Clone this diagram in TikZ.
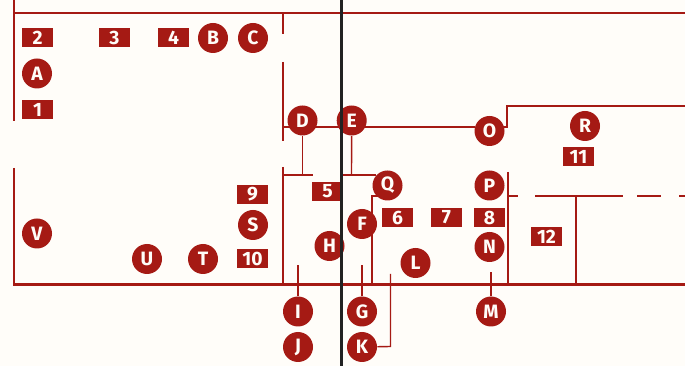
\documentclass[tikz,border=0pt]{standalone}
\usepackage{fontspec}
\setmainfont{Fira Sans}
\definecolor{bg}{HTML}{FFFDF9}
\definecolor{rd}{HTML}{A51A14}
\definecolor{ink}{HTML}{222222}
\tikzset{
  x=0.75pt,y=-0.75pt,
  wall/.style={draw=rd,line width=2pt},
  thin/.style={draw=rd,line width=1.5pt},
  lead/.style={draw=rd,line width=1.05pt},
  dot/.style={circle,fill=rd,text=bg,minimum size=22.5pt,inner sep=0pt,font=\fontsize{14.5}{14.5}\selectfont\bfseries},
  tag/.style={rectangle,fill=rd,text=bg,minimum width=23.25pt,minimum height=14.25pt,inner sep=0pt,font=\fontsize{14.5}{14.5}\selectfont\bfseries},
}
\begin{document}
\begin{tikzpicture}
\useasboundingbox (0,0) rectangle (685,366);
\fill[bg] (0,0) rectangle (685,366);
% walls
\coordinate (tr) at (685,13);
\draw[wall] (14,0) -- (14,121);
\draw[wall] (14,13) -- (tr);
\draw[wall] (14,168) -- (14,284.5) -- (685,284.5);
\draw[thin] (282.5,13) -- (282.5,34);
\draw[thin] (282.5,62) -- (282.5,141);
\draw[thin] (282.5,167) -- (282.5,284);
\draw[thin] (282.5,127) -- (475,127);
\draw[thin] (500,127) -- (507,127) -- (507,106) -- (685,106);
\draw[thin] (282.5,175.5) -- (313,175.5);
\draw[thin] (342,175.5) -- (376,175.5);
\draw[thin] (372,284) -- (372,196.5) -- (380,196.5);
\draw[thin] (508,172) -- (508,284);
\draw[thin] (508,196) -- (517.5,196);
\draw[thin] (535,196) -- (622.5,196);
\draw[thin] (637,196) -- (661,196);
\draw[thin] (679,196) -- (685,196);
\draw[thin] (575.5,196) -- (575.5,284);
% nodes
\node[dot] (A) at (37,73.5) {A};
\node[dot] (B) at (213,38) {B};
\node[dot] (C) at (253,38) {C};
\node[dot] (D) at (302.5,120.5) {D};
\node[dot] (E) at (351.7,120.5) {E};
\node[dot] (F) at (362,224) {F};
\node[dot] (G) at (362,311.5) {G};
\node[dot] (H) at (329.5,246) {H};
\node[dot] (I) at (298,311.5) {I};
\node[dot] (J) at (298,347) {J};
\node[dot] (K) at (362,347) {K};
\node[dot] (L) at (415.5,263) {L};
\node[dot] (M) at (491,311.5) {M};
\node[dot] (N) at (489.5,247) {N};
\node[dot] (O) at (489.5,131) {O};
\node[dot] (P) at (489.5,185.5) {P};
\node[dot] (Q) at (387.5,185.5) {Q};
\node[dot] (R) at (585,126) {R};
\node[dot] (S) at (253,225) {S};
\node[dot] (T) at (203,259) {T};
\node[dot] (U) at (147,259) {U};
\node[dot] (V) at (37,233.5) {V};
\node[tag] (t1) at (37.5,109.5) {1};
\node[tag] (t2) at (37.5,37.5) {2};
\node[tag] (t3) at (114.5,37.5) {3};
\node[tag] (t4) at (173.5,37.5) {4};
\node[tag] (t5) at (327.5,191.5) {5};
\node[tag] (t6) at (397.5,217.5) {6};
\node[tag] (t7) at (446.5,217.5) {7};
\node[tag] (t8) at (489.5,217.5) {8};
\node[tag] (t9) at (252.5,194.5) {9};
\node[tag] (t10) at (252.5,258.5) {10};
\node[tag] (t11) at (578.5,157) {11};
\node[tag] (t12) at (546.5,236.5) {12};
% leaders
\coordinate (dl) at (302.5,175.5);
\coordinate (el) at (351.5,175.5);
\coordinate (il) at (298,265);
\coordinate (gl) at (362,265);
\coordinate (ml) at (491,272);
\coordinate (kc) at (390.5,346.5);
\coordinate (kl) at (390.5,274);
\draw[lead] (D) -- (dl);
\draw[lead] (E) -- (el);
\draw[lead] (I) -- (il);
\draw[lead] (G) -- (gl);
\draw[lead] (M) -- (ml);
\draw[lead] (K) -- (kc) -- (kl);
% axis
\draw[draw=ink,line width=1.9pt] (341.4,0) -- (341.4,366);
\end{tikzpicture}
\end{document}
